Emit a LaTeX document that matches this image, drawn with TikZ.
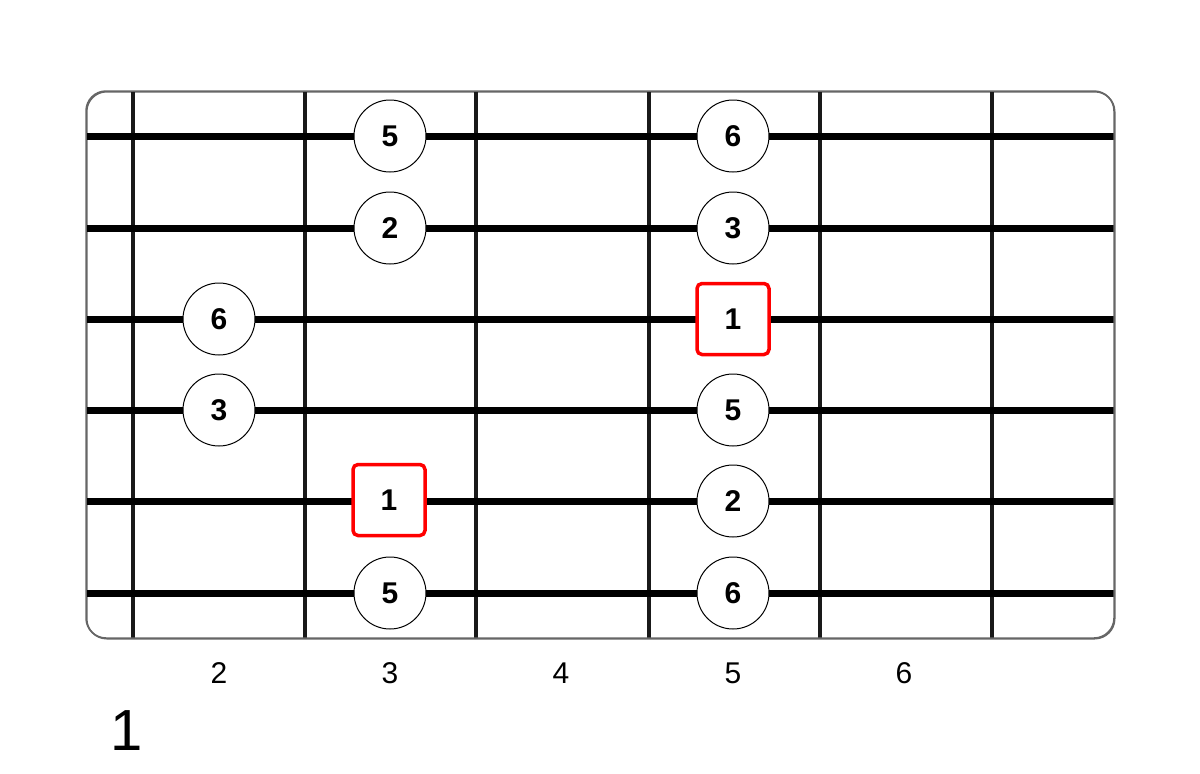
\documentclass[tikz,border=0pt]{standalone}
\usepackage{fontspec}
\setmainfont{Liberation Sans}
\begin{document}
\begin{tikzpicture}[x=1pt,y=-1pt,
  board/.style={draw=black!60,line width=1.5pt,rounded corners=20pt,fill=white},
  fretline/.style={draw=black!90,line width=3.2pt},
  stringline/.style={draw=black,line width=7pt},
  note/.style={circle,draw=black,line width=1pt,fill=white,minimum size=72pt,inner sep=0pt,font=\fontsize{30}{33}\selectfont\bfseries},
  root/.style={rectangle,draw=red,line width=3.5pt,rounded corners=5pt,fill=white,minimum width=72pt,minimum height=71pt,inner sep=0pt,font=\fontsize{30}{33}\selectfont\bfseries},
  fretlabel/.style={font=\fontsize{30}{33}\selectfont},
  biglabel/.style={font=\fontsize{58}{62}\selectfont}]
\useasboundingbox (0,0) rectangle (1200,774);
\path[fill=white] (0,0) rectangle (1200,774);
\node[board,minimum width=1028pt,minimum height=547pt,inner sep=0pt,anchor=north west] (brd) at (86,91) {};
% frets
\foreach \x [count=\i] in {133,305,476,649,820,992} {
  \coordinate (ft\i) at (\x,91);
  \coordinate (fb\i) at (\x,638);
  \draw[fretline] (ft\i) -- (fb\i);
}
% strings
\foreach \y [count=\i] in {136,228,319,410,501,593} {
  \coordinate (sl\i) at (86,\y);
  \coordinate (sr\i) at (1114,\y);
  \draw[stringline] (sl\i) -- (sr\i);
}
\draw[draw=black!60,line width=1.5pt,rounded corners=20pt] (86,91) rectangle (1114,638);
% notes
\node[note] (n1a) at (390,136) {5};
\node[note] (n1b) at (733,136) {6};
\node[note] (n2a) at (390,228) {2};
\node[note] (n2b) at (733,228) {3};
\node[note] (n3a) at (219,319) {6};
\node[root] (n3b) at (733,319) {1};
\node[note] (n4a) at (219,410) {3};
\node[note] (n4b) at (733,410) {5};
\node[root] (n5a) at (389,500) {1};
\node[note] (n5b) at (733,501) {2};
\node[note] (n6a) at (390,593) {5};
\node[note] (n6b) at (733,593) {6};
% fret numbers
\node[fretlabel] (l2) at (219,673) {2};
\node[fretlabel] (l3) at (390,673) {3};
\node[fretlabel] (l4) at (561,673) {4};
\node[fretlabel] (l5) at (733,673) {5};
\node[fretlabel] (l6) at (904,673) {6};
\node[biglabel] (pos) at (127,731) {1};
\end{tikzpicture}
\end{document}
